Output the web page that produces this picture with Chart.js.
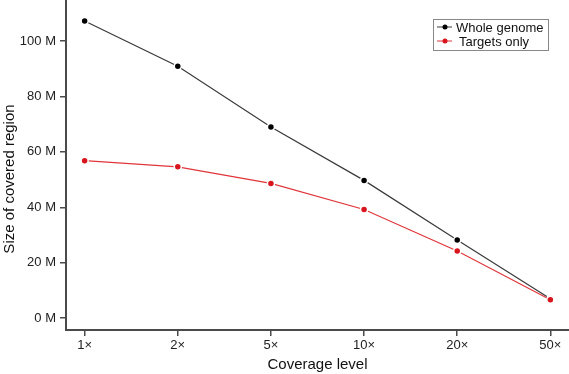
<!DOCTYPE html>
<html>
<head>
<meta charset="utf-8">
<script src="https://cdn.jsdelivr.net/npm/chart.js@4/dist/chart.umd.min.js"></script>
<style>
  html, body { margin: 0; padding: 0; background: #fff; }
  #wrap { width: 569px; height: 374px; }
</style>
</head>
<body>
<div id="wrap"><canvas id="coverageChart"></canvas></div>
<script>
// coverage levels on the x axis
const coverageLabels = ['1\u00d7', '2\u00d7', '5\u00d7', '10\u00d7', '20\u00d7', '50\u00d7'];
// size of covered region, millions of bases
const wholeGenome = [107.2, 90.9, 69.0, 49.7, 28.2, 7.0];
const targetsOnly = [56.8, 54.6, 48.6, 39.2, 24.2, 6.6];
const yTicks = [0, 20, 40, 60, 80, 100];

const axisColor = '#4a4a4a';
const fontFamily = '"Liberation Sans", Arial, Helvetica, sans-serif';

const toPoints = arr => arr.map((v, i) => ({ x: i, y: v }));

// legend box drawn inside the plot, top right
const boxLegend = {
    id: 'boxLegend',
    afterDraw(chart) {
        const ctx = chart.ctx;
        const x0 = 433, y0 = 19, w = 115, h = 31;
        ctx.save();
        ctx.strokeStyle = '#888';
        ctx.lineWidth = 1;
        ctx.strokeRect(x0 + 0.5, y0 + 0.5, w, h);
        ctx.font = '13px ' + fontFamily;
        ctx.textBaseline = 'middle';
        chart.data.datasets.forEach((ds, i) => {
            const yy = y0 + 8 + i * 14;
            ctx.strokeStyle = ds.borderColor;
            ctx.lineWidth = 1;
            ctx.beginPath();
            ctx.moveTo(437, yy);
            ctx.lineTo(452, yy);
            ctx.stroke();
            ctx.fillStyle = ds.pointBackgroundColor;
            ctx.beginPath();
            ctx.arc(445, yy, 2.5, 0, Math.PI * 2);
            ctx.fill();
            ctx.fillStyle = '#111';
            ctx.fillText(ds.label, i === 0 ? 456 : 459, yy + 1);
        });
        ctx.restore();
    }
};

// rotated y axis title, placed as in the figure
const yTitle = {
    id: 'yTitle',
    afterDraw(chart) {
        const ctx = chart.ctx;
        ctx.save();
        ctx.translate(10, 179);
        ctx.rotate(-Math.PI / 2);
        ctx.font = '15px ' + fontFamily;
        ctx.fillStyle = '#111';
        ctx.textAlign = 'center';
        ctx.textBaseline = 'middle';
        ctx.fillText('Size of covered region', 0, 0);
        ctx.restore();
    }
};

const ctx = document.getElementById('coverageChart').getContext('2d');
new Chart(ctx, {
    type: 'line',
    data: {
        datasets: [{
            label: 'Whole genome',
            data: toPoints(wholeGenome),
            order: 1,
            borderColor: '#3a3a3a',
            borderWidth: 1.2,
            pointBackgroundColor: '#000',
            pointBorderColor: '#fff',
            pointBorderWidth: 1.5,
            pointRadius: 3.5,
            tension: 0
        }, {
            label: 'Targets only',
            data: toPoints(targetsOnly),
            order: 0,
            borderColor: '#e0353a',
            borderWidth: 1.2,
            pointBackgroundColor: '#d8141c',
            pointBorderColor: '#fff',
            pointBorderWidth: 1.5,
            pointRadius: 3.5,
            tension: 0
        }]
    },
    options: {
        responsive: true,
        maintainAspectRatio: false,
        animation: false,
        layout: { padding: 0, autoPadding: false },
        plugins: {
            legend: { display: false },
            tooltip: { enabled: false }
        },
        scales: {
            x: {
                type: 'linear',
                min: -0.2,
                max: 5.2,
                afterBuildTicks: scale => {
                    scale.ticks = coverageLabels.map((_, i) => ({ value: i }));
                },
                afterFit: scale => {
                    scale.height = 44;
                    scale.paddingLeft = 0;
                    scale.paddingRight = 0;
                },
                ticks: {
                    callback: v => coverageLabels[v],
                    color: '#222',
                    font: { family: fontFamily, size: 13 },
                    padding: 2,
                    maxRotation: 0
                },
                grid: {
                    drawOnChartArea: false,
                    drawTicks: true,
                    tickLength: 6,
                    color: axisColor,
                    lineWidth: 1.5
                },
                border: { color: axisColor, width: 2 },
                title: {
                    display: true,
                    text: 'Coverage level',
                    color: '#111',
                    font: { family: fontFamily, size: 15 },
                    padding: { top: 0, bottom: 0 }
                }
            },
            y: {
                min: -4.3,
                max: 114.8,
                afterBuildTicks: scale => {
                    scale.ticks = yTicks.map(v => ({ value: v }));
                },
                afterFit: scale => {
                    scale.width = 66;
                    scale.paddingTop = 0;
                    scale.paddingBottom = 0;
                },
                ticks: {
                    callback: v => v + ' M',
                    color: '#222',
                    font: { family: fontFamily, size: 13 },
                    padding: 4
                },
                grid: {
                    drawOnChartArea: false,
                    drawTicks: true,
                    tickLength: 6,
                    color: axisColor,
                    lineWidth: 1.5
                },
                border: { color: axisColor, width: 2 }
            }
        }
    },
    plugins: [boxLegend, yTitle]
});
</script>
</body>
</html>
